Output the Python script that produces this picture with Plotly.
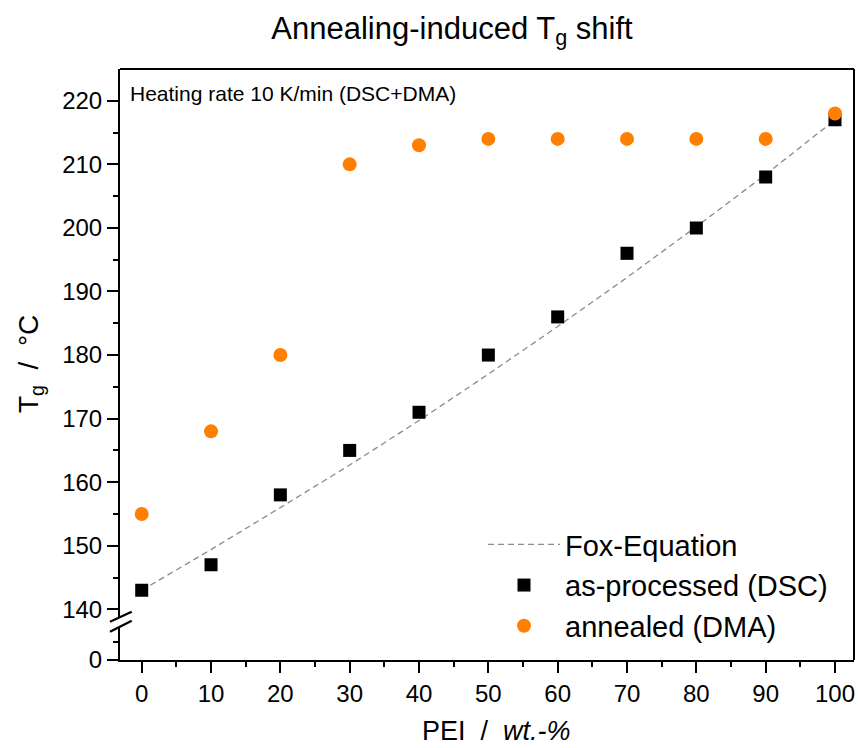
import plotly.graph_objects as go

# ---- data ----
pei = [0, 10, 20, 30, 40, 50, 60, 70, 80, 90, 100]
tg_as_processed = [143, 147, 158, 165, 171, 180, 186, 196, 200, 208, 217]
tg_annealed = [155, 168, 180, 210, 213, 214, 214, 214, 214, 214, 218]
tg_fox = [143, 149.4, 156.0, 162.7, 169.7, 177.0, 184.5, 192.2, 200.2, 208.4, 217]

x_ticks = [0, 10, 20, 30, 40, 50, 60, 70, 80, 90, 100]
x_minor = [5, 15, 25, 35, 45, 55, 65, 75, 85, 95]
y_ticks = [140, 150, 160, 170, 180, 190, 200, 210, 220]
y_minor = [145, 155, 165, 175, 185, 195, 205, 215]

FONT = "Liberation Sans, Arial, sans-serif"
ORANGE = "#ff8000"

W, H = 858, 748
ML, MR, MT, MB = 120, 4, 69, 88
PW, PH = W - ML - MR, H - MT - MB

def px(xp):
    return (xp - ML) / PW

def py(yp):
    return (H - MB - yp) / PH

upper_bottom = py(616.7)
lower_top = py(626.7)

fig = go.Figure()
fig.add_trace(go.Scatter(x=pei, y=tg_fox, mode="lines", name="Fox-Equation",
                         line=dict(color="#8a8a8a", width=1.3, dash="6px,4px")))
fig.add_trace(go.Scatter(x=pei, y=tg_as_processed, mode="markers", name="as-processed (DSC)",
                         marker=dict(symbol="square", size=13, color="black")))
fig.add_trace(go.Scatter(x=pei, y=tg_annealed, mode="markers", name="annealed (DMA)",
                         marker=dict(symbol="circle", size=14, color=ORANGE), cliponaxis=False))
# invisible trace on the lower (broken) y segment
fig.add_trace(go.Scatter(x=[None], y=[None], yaxis="y2", showlegend=False, hoverinfo="skip"))

tickfont = dict(family=FONT, size=24, color="black")
axis_common = dict(showline=True, linecolor="black", linewidth=2, ticks="outside",
                   ticklen=11, tickwidth=2, tickcolor="black", showgrid=False,
                   zeroline=False, tickfont=tickfont)

fig.update_layout(
    width=W, height=H,
    margin=dict(l=ML, r=MR, t=MT, b=MB, autoexpand=False),
    paper_bgcolor="white", plot_bgcolor="white",
    font=dict(family=FONT, color="black"),
    xaxis=dict(range=[-3.13, 102.74], tickvals=x_ticks, anchor="y2",
               minor=dict(tickvals=x_minor, ticklen=5, tickwidth=2, ticks="outside", tickcolor="black"),
               **axis_common),
    yaxis=dict(range=[138.84, 225], domain=[upper_bottom, 1], tickvals=y_ticks, anchor="x",
               minor=dict(tickvals=y_minor, ticklen=5, tickwidth=2, ticks="outside", tickcolor="black"),
               **axis_common),
    yaxis2=dict(range=[0, 9.25], domain=[0, lower_top], tickvals=[0], anchor="x",
                minor=dict(tickvals=[5], ticklen=5, tickwidth=2, ticks="outside", tickcolor="black"),
                **axis_common),
    title=dict(text="Annealing-induced T<sub>g</sub> shift", x=452 / W, xanchor="center",
               y=1 - 28 / H, yanchor="middle", font=dict(family=FONT, size=31, color="black")),
    legend=dict(x=px(483), xanchor="left", y=py(519), yanchor="top",
                bgcolor="rgba(0,0,0,0)", borderwidth=0, itemwidth=72,
                font=dict(family=FONT, size=29, color="black"), tracegroupgap=0),
    showlegend=True,
)

# frame (top and right)
fig.add_shape(type="line", xref="paper", yref="paper", x0=0, x1=1, y0=1, y1=1,
              line=dict(color="black", width=2))
fig.add_shape(type="line", xref="paper", yref="paper", x0=1, x1=1, y0=0, y1=1,
              line=dict(color="black", width=2))
# axis break marks
for (xa, ya, xb, yb) in [(110, 621.7, 131.7, 611.7), (110, 631.7, 131.7, 620.7)]:
    fig.add_shape(type="line", xref="paper", yref="paper", x0=px(xa), y0=py(ya),
                  x1=px(xb), y1=py(yb), line=dict(color="black", width=2.2))

# annotations
fig.add_annotation(text="Heating rate 10 K/min (DSC+DMA)", xref="paper", yref="paper",
                   x=px(128), y=py(93), xanchor="left", yanchor="middle", showarrow=False,
                   font=dict(family=FONT, size=21, color="black"))
fig.add_annotation(text="PEI &nbsp;/&nbsp; <i>wt.-%</i>", xref="paper", yref="paper",
                   x=px(496), y=py(731), xanchor="center", yanchor="middle", showarrow=False,
                   font=dict(family=FONT, size=27, color="black"))
fig.add_annotation(text="T<sub>g</sub> &nbsp;/&nbsp; °C", xref="paper", yref="paper",
                   x=px(30), y=py(364), xanchor="center", yanchor="middle", showarrow=False,
                   textangle=-90, font=dict(family=FONT, size=28, color="black"))

fig.write_html("out.html")
